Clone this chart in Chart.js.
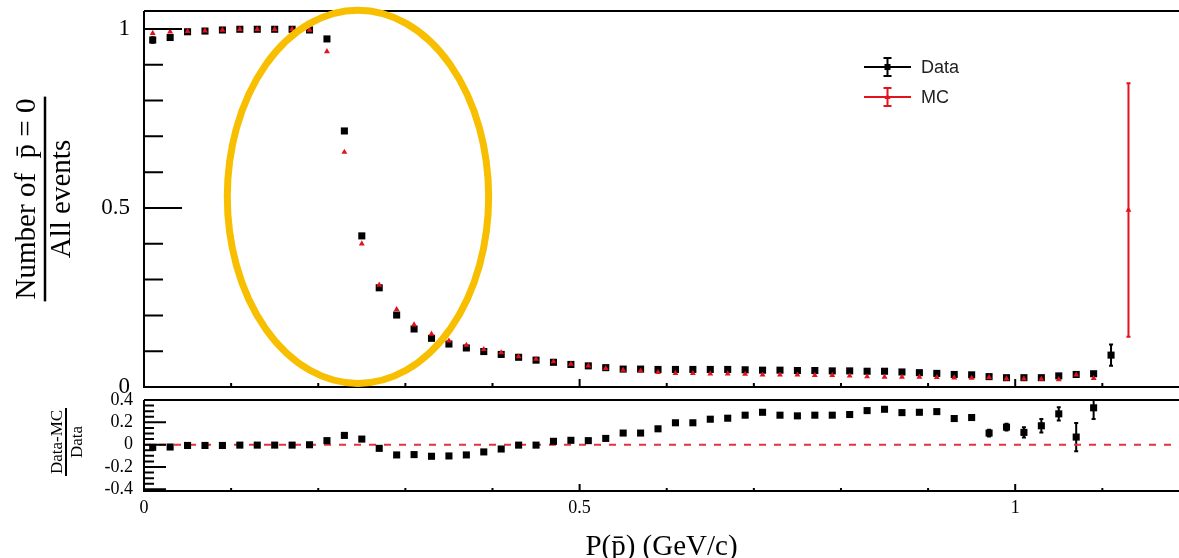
<!DOCTYPE html>
<html>
<head>
<meta charset="utf-8">
<script src="https://cdn.jsdelivr.net/npm/chart.js@4.4.1/dist/chart.umd.min.js"></script>
<style>
  html, body { margin: 0; padding: 0; background: #fff; }
  #wrap { position: relative; width: 1179px; height: 558px; overflow: hidden; }
  canvas { position: absolute; left: 0; }
  #effChart { top: 0; }
  #ratioChart { top: 385px; }
</style>
</head>
<body>
<div id="wrap">
  <canvas id="effChart" width="1179" height="395"></canvas>
  <canvas id="ratioChart" width="1179" height="173"></canvas>
</div>
<script>
// bin centres, P(pbar) in GeV/c
const momentum = [
    0.01, 0.03, 0.05, 0.07, 0.09, 0.11, 0.13, 0.15, 0.17, 0.19,
    0.21, 0.23, 0.25, 0.27, 0.29, 0.31, 0.33, 0.35, 0.37, 0.39,
    0.41, 0.43, 0.45, 0.47, 0.49, 0.51, 0.53, 0.55, 0.57, 0.59,
    0.61, 0.63, 0.65, 0.67, 0.69, 0.71, 0.73, 0.75, 0.77, 0.79,
    0.81, 0.83, 0.85, 0.87, 0.89, 0.91, 0.93, 0.95, 0.97, 0.99,
    1.01, 1.03, 1.05, 1.07, 1.09, 1.11, 1.13
];

// fraction of events with no pbar
const dataFrac = [
    0.969, 0.976, 0.992, 0.994, 0.997, 0.999, 0.999, 0.999, 0.999, 0.997,
    0.972, 0.715, 0.422, 0.277, 0.201, 0.162, 0.136, 0.120, 0.109, 0.099,
    0.091, 0.083, 0.075, 0.069, 0.063, 0.059, 0.054, 0.050, 0.050, 0.049,
    0.049, 0.049, 0.049, 0.049, 0.048, 0.047, 0.047, 0.046, 0.046, 0.045,
    0.045, 0.044, 0.044, 0.042, 0.040, 0.038, 0.035, 0.034, 0.029, 0.026,
    0.026, 0.026, 0.031, 0.035, 0.037, 0.089, null
];
const dataFracErr = [
    0.008, 0, 0, 0, 0, 0, 0, 0, 0, 0,
    0, 0, 0, 0, 0, 0, 0, 0, 0, 0,
    0, 0, 0, 0, 0, 0, 0, 0, 0, 0,
    0, 0, 0, 0, 0, 0, 0, 0, 0, 0,
    0, 0, 0, 0, 0, 0, 0, 0, 0, 0,
    0, 0, 0, 0, 0, 0.030, 0
];
const mcFrac = [
    0.988, 0.992, 0.993, 0.995, 0.997, 0.999, 0.999, 0.999, 0.999, 0.997,
    0.937, 0.656, 0.400, 0.285, 0.217, 0.174, 0.148, 0.129, 0.117, 0.105,
    0.096, 0.085, 0.078, 0.071, 0.064, 0.059, 0.052, 0.047, 0.045, 0.041,
    0.038, 0.038, 0.037, 0.037, 0.036, 0.034, 0.034, 0.034, 0.033, 0.033,
    0.031, 0.029, 0.028, 0.028, 0.028, 0.027, 0.026, 0.025, 0.027, 0.023,
    0.023, 0.022, 0.021, 0.034, 0.024, null, 0.494
];
const mcFracErr = [
    0, 0, 0, 0, 0, 0, 0, 0, 0, 0,
    0, 0, 0, 0, 0, 0, 0, 0, 0, 0,
    0, 0, 0, 0, 0, 0, 0, 0, 0, 0,
    0, 0, 0, 0, 0, 0, 0, 0, 0, 0,
    0, 0, 0, 0, 0, 0, 0, 0, 0, 0,
    0, 0, 0, 0, 0, 0, 0.354
];

// (Data-MC)/Data
const ratio = [
    -0.024, -0.021, -0.007, -0.007, -0.007, -0.004, -0.004, -0.004, -0.004, -0.001,
    0.036, 0.083, 0.050, -0.033, -0.092, -0.089, -0.104, -0.101, -0.092, -0.065,
    -0.039, -0.004, -0.004, 0.030, 0.039, 0.036, 0.056, 0.104, 0.104, 0.142,
    0.196, 0.196, 0.228, 0.237, 0.264, 0.290, 0.264, 0.258, 0.264, 0.264,
    0.270, 0.305, 0.317, 0.287, 0.290, 0.296, 0.234, 0.243, 0.104, 0.157,
    0.110, 0.169, 0.276, 0.068, 0.330
];
const ratioErr = [
    0.015, 0, 0, 0, 0, 0, 0, 0, 0, 0,
    0, 0, 0, 0, 0, 0, 0, 0, 0, 0,
    0, 0, 0, 0, 0, 0, 0, 0, 0, 0,
    0, 0, 0, 0, 0, 0, 0, 0, 0, 0,
    0, 0, 0, 0, 0, 0, 0, 0, 0.030, 0.030,
    0.045, 0.060, 0.060, 0.126, 0.100
];

const momentumTicks = [0, 0.5, 1];
const fracTicks = [0, 0.5, 1];
const ratioTicks = [-0.4, -0.2, 0, 0.2, 0.4];

const xMax = 1.188;
const RED = "#e3121c";
const serif = "'Liberation Serif', 'Times New Roman', serif";
const sans = "'Liberation Sans', Arial, sans-serif";

const toPoints = (ys) => momentum.slice(0, ys.length).map((x, i) => ({ x: x, y: ys[i] }));

// vertical error bars, drawn under the markers
const errorBars = {
    id: "errorBars",
    beforeDatasetsDraw(chart) {
        const { ctx, chartArea: a, scales: { x, y } } = chart;
        chart.data.datasets.forEach((ds) => {
            if (!ds.errors) return;
            ctx.save();
            ctx.strokeStyle = ds.backgroundColor;
            ctx.lineWidth = 2;
            ds.data.forEach((p, i) => {
                const e = ds.errors[i];
                if (!e || p.y == null) return;
                const px = x.getPixelForValue(p.x);
                const top = Math.max(y.getPixelForValue(p.y + e), a.top);
                const bot = Math.min(y.getPixelForValue(p.y - e), a.bottom);
                ctx.beginPath();
                ctx.moveTo(px, top);
                ctx.lineTo(px, bot);
                if (top > a.top) { ctx.moveTo(px - 2, top); ctx.lineTo(px + 2, top); }
                ctx.moveTo(px - 2, bot);
                ctx.lineTo(px + 2, bot);
                ctx.stroke();
            });
            ctx.restore();
        });
    }
};

// ROOT-like frame with ticks pointing inwards
const rootFrame = {
    id: "rootFrame",
    afterDraw(chart, args, o) {
        const { ctx, chartArea: a, scales: { x, y } } = chart;
        const isMajor = (v, m) => Math.abs(v / m - Math.round(v / m)) < 1e-6;
        ctx.save();
        ctx.strokeStyle = "#000";
        ctx.lineWidth = 2;
        ctx.beginPath();
        ctx.moveTo(a.left, a.top);
        ctx.lineTo(a.right + 2, a.top);
        ctx.moveTo(a.left, a.top);
        ctx.lineTo(a.left, a.bottom);
        ctx.lineTo(a.right + 2, a.bottom);
        // x ticks
        for (let i = 0; ; i++) {
            const v = x.min + i * o.xMinor;
            if (v > x.max + 1e-9) break;
            const len = isMajor(v, o.xMajor) ? o.xMajorLen : o.xMinorLen;
            const px = x.getPixelForValue(v);
            ctx.moveTo(px, a.bottom);
            ctx.lineTo(px, a.bottom - len);
        }
        // y ticks
        const start = Math.ceil(y.min / o.yMinor - 1e-9);
        for (let i = start; ; i++) {
            const v = i * o.yMinor;
            if (v > y.max + 1e-9) break;
            const len = isMajor(v, o.yMajor) ? o.yMajorLen : o.yMinorLen;
            const py = y.getPixelForValue(v);
            ctx.moveTo(a.left, py);
            ctx.lineTo(a.left + len, py);
        }
        ctx.stroke();
        ctx.restore();
    }
};

// stacked fraction as a rotated y title
const fracTitle = {
    id: "fracTitle",
    afterDraw(chart, args, o) {
        const { ctx } = chart;
        ctx.save();
        ctx.translate(o.x, o.y);
        ctx.rotate(-Math.PI / 2);
        ctx.font = o.font;
        ctx.fillStyle = "#000";
        ctx.textAlign = "center";
        ctx.textBaseline = "alphabetic";
        const w = Math.max(ctx.measureText(o.num).width, ctx.measureText(o.den).width) + 4;
        ctx.fillText(o.num, 0, -o.numGap);
        ctx.fillText(o.den, 0, o.denGap);
        ctx.lineWidth = o.lineWidth;
        ctx.strokeStyle = "#000";
        ctx.beginPath();
        ctx.moveTo(-w / 2, 0);
        ctx.lineTo(w / 2, 0);
        ctx.stroke();
        ctx.restore();
    }
};

// legend with error-bar symbols
const errLegend = {
    id: "errLegend",
    afterDraw(chart, args, o) {
        if (!o.display) return;
        const { ctx } = chart;
        ctx.save();
        chart.data.datasets.forEach((ds, i) => {
            const y = o.y + i * o.rowGap;
            const c = ds.backgroundColor;
            ctx.strokeStyle = c;
            ctx.fillStyle = c;
            ctx.lineWidth = 2;
            ctx.beginPath();
            ctx.moveTo(o.x, y);
            ctx.lineTo(o.x + o.lineLen, y);
            const bx = o.x + o.lineLen / 2;
            ctx.moveTo(bx, y - 9);
            ctx.lineTo(bx, y + 9);
            ctx.moveTo(bx - 4, y - 9);
            ctx.lineTo(bx + 4, y - 9);
            ctx.moveTo(bx - 4, y + 9);
            ctx.lineTo(bx + 4, y + 9);
            ctx.stroke();
            if (ds.pointStyle === "rect") {
                ctx.fillRect(bx - 3, y - 3, 6, 6);
            } else {
                ctx.beginPath();
                ctx.moveTo(bx, y - 3);
                ctx.lineTo(bx + 3, y + 2);
                ctx.lineTo(bx - 3, y + 2);
                ctx.closePath();
                ctx.fill();
            }
            ctx.fillStyle = "#222";
            ctx.font = o.font;
            ctx.textBaseline = "middle";
            ctx.textAlign = "left";
            ctx.fillText(ds.label, o.x + o.lineLen + 10, y + 1);
        });
        ctx.restore();
    }
};

// hand-drawn highlight ellipse, given in data units
const highlight = {
    id: "highlight",
    afterDraw(chart, args, o) {
        if (!o.display) return;
        const { ctx, scales: { x, y } } = chart;
        const cx = x.getPixelForValue(o.cx);
        const cy = y.getPixelForValue(o.cy);
        const rx = Math.abs(x.getPixelForValue(o.cx + o.rx) - cx);
        const ry = Math.abs(y.getPixelForValue(o.cy + o.ry) - cy);
        ctx.save();
        ctx.strokeStyle = o.color;
        ctx.lineWidth = o.width;
        ctx.beginPath();
        ctx.ellipse(cx, cy, rx, ry, 0, 0, Math.PI * 2);
        ctx.stroke();
        ctx.restore();
    }
};

const fixedTicks = (values) => (scale) => {
    scale.ticks = values.map(v => ({ value: v }));
};

// pin the axis box and drop the label overhang padding
const fitBox = (prop, size) => (s) => {
    s[prop] = size;
    s.paddingTop = 0;
    s.paddingBottom = 0;
    s.paddingLeft = 0;
    s.paddingRight = 0;
};

// top pad: fraction of events
new Chart(document.getElementById("effChart"), {
    type: "scatter",
    data: {
        datasets: [
            {
                label: "Data",
                data: toPoints(dataFrac),
                errors: dataFracErr,
                pointStyle: "rect",
                pointRadius: 5,
                backgroundColor: "#000",
                borderWidth: 0,
                order: 2
            },
            {
                label: "MC",
                data: toPoints(mcFrac),
                errors: mcFracErr,
                pointStyle: "triangle",
                pointRadius: 3.4,
                backgroundColor: RED,
                borderWidth: 0,
                order: 1
            }
        ]
    },
    options: {
        responsive: false,
        animation: false,
        events: [],
        layout: { padding: { top: 11, right: 0, left: 0, bottom: 0 }, autoPadding: false },
        scales: {
            x: {
                type: "linear",
                min: 0,
                max: xMax,
                grid: { display: false, drawTicks: false },
                border: { display: false },
                ticks: { display: false },
                afterBuildTicks: fixedTicks(momentumTicks),
                afterFit: fitBox("height", 8)
            },
            y: {
                min: 0,
                max: 1.05,
                grid: { display: false, drawTicks: false },
                border: { display: false },
                afterBuildTicks: fixedTicks(fracTicks),
                ticks: {
                    color: "#000",
                    padding: 14,
                    autoSkip: false,
                    font: { family: serif, size: 23 },
                    callback: (v) => String(v)
                },
                afterFit: fitBox("width", 144)
            }
        },
        plugins: {
            legend: { display: false },
            tooltip: { enabled: false },
            rootFrame: {
                xMinor: 0.1, xMajor: 0.5, xMinorLen: 4, xMajorLen: 8,
                yMinor: 0.1, yMajor: 0.5, yMinorLen: 19, yMajorLen: 38
            },
            fracTitle: {
                num: "Number of  p\u0304 = 0",
                den: "All events",
                x: 45, y: 199,
                numGap: 10, denGap: 25,
                lineWidth: 2.5,
                font: "29px " + serif
            },
            errLegend: {
                display: true,
                x: 864, y: 67, rowGap: 30, lineLen: 47,
                font: "18px " + sans
            },
            highlight: {
                display: true,
                cx: 0.2456, cy: 0.531, rx: 0.15, ry: 0.521,
                color: "#F8BF00", width: 7
            }
        }
    },
    plugins: [errorBars, rootFrame, fracTitle, errLegend, highlight]
});

// bottom pad: (Data-MC)/Data
new Chart(document.getElementById("ratioChart"), {
    type: "scatter",
    data: {
        datasets: [
            {
                label: "(Data-MC)/Data",
                data: toPoints(ratio),
                errors: ratioErr,
                pointStyle: "rect",
                pointRadius: 5,
                backgroundColor: "#000",
                borderWidth: 0,
                order: 1
            },
            {
                type: "line",
                label: "zero",
                data: [{ x: 0, y: 0 }, { x: xMax, y: 0 }],
                borderColor: "#e5323b",
                borderWidth: 2,
                borderDash: [7, 8],
                pointRadius: 0,
                order: 2
            }
        ]
    },
    options: {
        responsive: false,
        animation: false,
        events: [],
        layout: { padding: { top: 15, right: 0, left: 0, bottom: 0 }, autoPadding: false },
        scales: {
            x: {
                type: "linear",
                min: 0,
                max: xMax,
                grid: { display: false, drawTicks: false },
                border: { display: false },
                afterBuildTicks: fixedTicks(momentumTicks),
                ticks: {
                    color: "#000",
                    padding: 6,
                    maxRotation: 0,
                    autoSkip: false,
                    font: { family: serif, size: 18 },
                    callback: (v) => String(v)
                },
                title: {
                    display: true,
                    text: "P(p\u0304) (GeV/c)",
                    color: "#000",
                    font: { family: serif, size: 29, lineHeight: 1 },
                    padding: { top: 0, bottom: -4 }
                },
                afterFit: fitBox("height", 67)
            },
            y: {
                min: -0.415,
                max: 0.4,
                grid: { display: false, drawTicks: false },
                border: { display: false },
                afterBuildTicks: fixedTicks(ratioTicks),
                ticks: {
                    color: "#000",
                    padding: 11,
                    autoSkip: false,
                    font: { family: serif, size: 18 },
                    callback: (v) => String(v)
                },
                afterFit: fitBox("width", 144)
            }
        },
        plugins: {
            legend: { display: false },
            tooltip: { enabled: false },
            rootFrame: {
                xMinor: 0.1, xMajor: 0.5, xMinorLen: 3, xMajorLen: 7,
                yMinor: 0.05, yMajor: 0.2, yMinorLen: 10, yMajorLen: 22
            },
            fracTitle: {
                num: "Data-MC",
                den: "Data",
                x: 66, y: 57,
                numGap: 4, denGap: 16,
                lineWidth: 2,
                font: "17px " + serif
            },
            errLegend: { display: false },
            highlight: { display: false }
        }
    },
    plugins: [errorBars, rootFrame, fracTitle]
});
</script>
</body>
</html>
